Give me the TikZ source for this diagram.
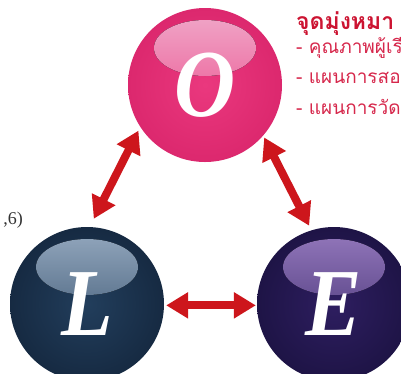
\documentclass[tikz,border=0pt]{standalone}
\usepackage{fontspec}
\setmainfont{Liberation Serif}
\newfontfamily\thaifont[Script=Thai]{Loma}
\newfontfamily\letterfont[FakeStretch=0.88]{Liberation Serif}
\usetikzlibrary{arrows.meta}
\definecolor{pinkbase}{RGB}{234,56,126}
\definecolor{pinkedge}{RGB}{220,40,110}
\definecolor{pinkhi}{RGB}{240,170,202}
\definecolor{navybase}{RGB}{34,62,92}
\definecolor{navyedge}{RGB}{22,42,66}
\definecolor{navyhi}{RGB}{150,170,192}
\definecolor{indbase}{RGB}{46,30,96}
\definecolor{indedge}{RGB}{30,20,70}
\definecolor{indhi}{RGB}{150,122,190}
\definecolor{arrred}{RGB}{205,22,28}
\definecolor{titlered}{RGB}{204,20,50}
\definecolor{linered}{RGB}{214,40,76}
\tikzset{
  ball/.style n args={3}{circle, minimum size=154pt, inner sep=0pt,
    inner color=#1, outer color=#2, text=white,
    font=\letterfont\bfseries\itshape\fontsize{96}{96}\selectfont,
    path picture={\fill[top color=#3, bottom color=#1]
      ([yshift=37pt]path picture bounding box.center) ellipse (51pt and 28pt);}},
  arr/.style={draw=arrred, line width=8pt,
    {Triangle[width=25pt,length=22pt]}-{Triangle[width=25pt,length=22pt]}},
  titletext/.style={anchor=west, text=titlered, inner sep=0pt,
    font=\thaifont\bfseries\fontsize{23}{25}\selectfont},
  listtext/.style={anchor=west, text=linered, inner sep=0pt,
    font=\thaifont\fontsize{19}{21}\selectfont}
}
\begin{document}
\begin{tikzpicture}[x=1pt,y=-1pt]
\useasboundingbox (0,0) rectangle (401,373);
\clip (0,0) rectangle (401,373);
\node[ball={pinkbase}{pinkedge}{pinkhi}] (O) at (205,85) {O};
\node[ball={navybase}{navyedge}{navyhi}] (L) at (87,304) {L};
\node[ball={indbase}{indedge}{indhi}] (E) at (334,304) {E};
\draw[arr, shorten <=4pt, shorten >=9pt] (O.213) -- (L.88);
\draw[arr, shorten <=2pt, shorten >=5pt] (O.-41) -- (E.107);
\draw[arr, shorten <=2pt, shorten >=1pt] (L.-1) -- (E.181);
\node[titletext] (t0) at (296,24) {จุดมุ่งหมา};
\node[listtext] (t1) at (296,48) {- คุณภาพผู้เรี};
\node[listtext] (t2) at (296,78) {- แผนการสอ};
\node[listtext] (t3) at (296,107) {- แผนการวัดเ};
\node[anchor=east, inner sep=0pt, text=black!80, font=\fontsize{18}{20}\selectfont] (ref) at (23,220) {,6)};
\end{tikzpicture}
\end{document}
